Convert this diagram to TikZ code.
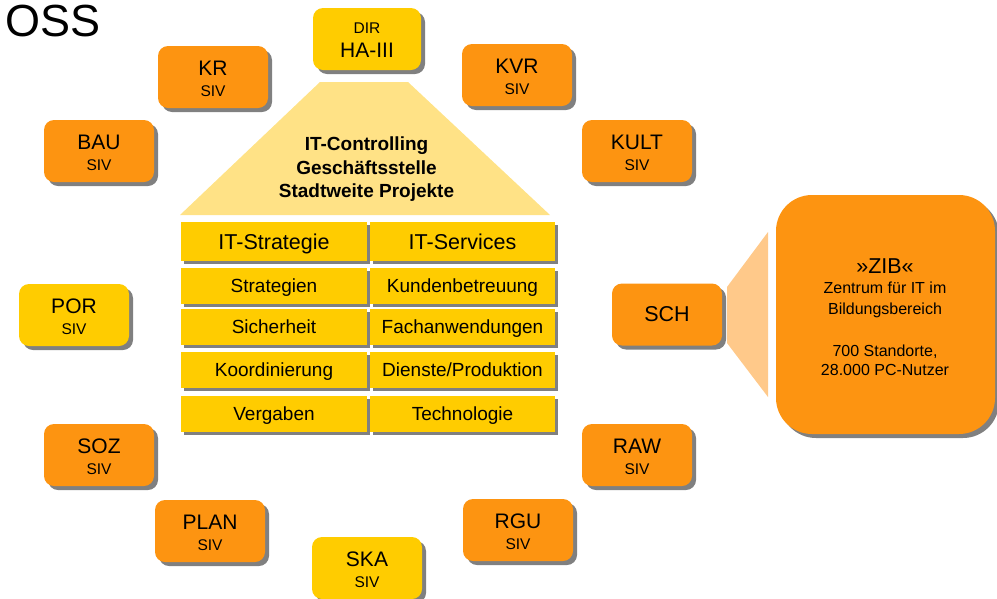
\documentclass[tikz,border=0pt]{standalone}
\usepackage{fontspec}
\setmainfont{Liberation Sans}
\usetikzlibrary{shadows}
\definecolor{orng}{RGB}{253,148,17}
\definecolor{ylw}{RGB}{255,204,0}
\definecolor{lylw}{RGB}{255,226,134}
\definecolor{peach}{RGB}{255,201,138}
\definecolor{shd}{RGB}{128,128,128}
\newcommand\sivbox[6]{% name, x, y, fill, main, sub
  \node[sbox, fill=#4] (#1) at (#2,#3) {};
  \node[bigl] (#1-m) at (#2,#3-9) {#5};
  \node[smalll] (#1-s) at (#2,#3+14.5) {#6};
}
\begin{document}
\begin{tikzpicture}[x=1pt,y=-1pt,
  sbox/.style={rounded corners=10pt, minimum width=110pt, minimum height=62pt, inner sep=0pt,
    drop shadow={shadow xshift=4pt, shadow yshift=-4pt, fill=shd, opacity=1}},
  cellbox/.style={fill=ylw, inner sep=0pt, text depth=0pt,
    drop shadow={shadow xshift=3pt, shadow yshift=-3pt, fill=shd, opacity=1}},
  headcell/.style={cellbox, font=\fontsize{21.5}{24}\selectfont, text height=15.4pt},
  subcell/.style={cellbox, font=\fontsize{19}{22}\selectfont, text height=13.6pt},
  bigl/.style={inner sep=0pt, font=\fontsize{21}{24}\selectfont},
  smalll/.style={inner sep=0pt, font=\fontsize{15.5}{18}\selectfont},
  zibl/.style={inner sep=0pt, anchor=base, font=\fontsize{16}{19}\selectfont},
  ctl/.style={inner sep=0pt, anchor=base, font=\bfseries\fontsize{19}{23}\selectfont},
]
\useasboundingbox (0,0) rectangle (997,598);

% title fragment
\node[inner sep=0pt, anchor=base east, font=\fontsize{45}{48}\selectfont] (title) at (101,36) {OSS};

% central trapezoid
\fill[lylw] (180,215) -- (320,82) -- (408,82) -- (550,215) -- cycle;
\node[ctl] (ctl1) at (366.5,150) {IT-Controlling};
\node[ctl] (ctl2) at (366.5,174) {Geschäftsstelle};
\node[ctl] (ctl3) at (366.5,197) {Stadtweite Projekte};

% cells
\node[headcell, minimum width=186pt, minimum height=39pt] (l1) at (274,241.5) {IT-Strategie};
\node[headcell, minimum width=185pt, minimum height=39pt] (r1) at (462.5,241.5) {IT-Services};
\node[subcell, minimum width=186pt, minimum height=36pt] (l2) at (274,286) {Strategien};
\node[subcell, minimum width=185pt, minimum height=36pt] (r2) at (462.5,286) {Kundenbetreuung};
\node[subcell, minimum width=186pt, minimum height=36pt] (l3) at (274,327) {Sicherheit};
\node[subcell, minimum width=185pt, minimum height=36pt] (r3) at (462.5,327) {Fachanwendungen};
\node[subcell, minimum width=186pt, minimum height=36pt] (l4) at (274,370) {Koordinierung};
\node[subcell, minimum width=185pt, minimum height=36pt] (r4) at (462.5,370) {Dienste/Produktion};
\node[subcell, minimum width=186pt, minimum height=36pt] (l5) at (274,414) {Vergaben};
\node[subcell, minimum width=185pt, minimum height=36pt] (r5) at (462.5,414) {Technologie};

% DIR box
\node[sbox, fill=ylw, minimum width=108pt] (dir) at (367,39) {};
\node[smalll] (dir-m) at (367,28) {DIR};
\node[bigl] (dir-s) at (367,50.5) {HA-III};

% surrounding boxes
\sivbox{kr}{213}{77}{orng}{KR}{SIV}
\sivbox{kvr}{517}{75}{orng}{KVR}{SIV}
\sivbox{bau}{99}{151}{orng}{BAU}{SIV}
\sivbox{kult}{637}{151}{orng}{KULT}{SIV}
\sivbox{por}{74}{315}{ylw}{POR}{SIV}
\sivbox{soz}{99}{455}{orng}{SOZ}{SIV}
\sivbox{raw}{637}{455}{orng}{RAW}{SIV}
\sivbox{plan}{210}{531}{orng}{PLAN}{SIV}
\sivbox{rgu}{518}{530}{orng}{RGU}{SIV}
\sivbox{ska}{367}{568}{ylw}{SKA}{SIV}

% SCH with ZIB callout
\fill[peach] (727,287) -- (768,232) -- (768,397) -- (727,343) -- cycle;
\node[sbox, fill=orng, font=\fontsize{21.5}{24}\selectfont] (sch) at (667,314.5) {SCH};
\node[sbox, fill=orng, rounded corners=36pt, minimum width=219pt, minimum height=239pt] (zib) at (885.5,314.5) {};
\node[inner sep=0pt, font=\fontsize{21.5}{24}\selectfont] (zib1) at (885,266) {»ZIB«};
\node[zibl] (zib2) at (885,293) {Zentrum für IT im};
\node[zibl] (zib3) at (885,314.5) {Bildungsbereich};
\node[zibl] (zib4) at (885,356) {700 Standorte,};
\node[zibl] (zib5) at (885,375) {28.000 PC-Nutzer};
\end{tikzpicture}
\end{document}
